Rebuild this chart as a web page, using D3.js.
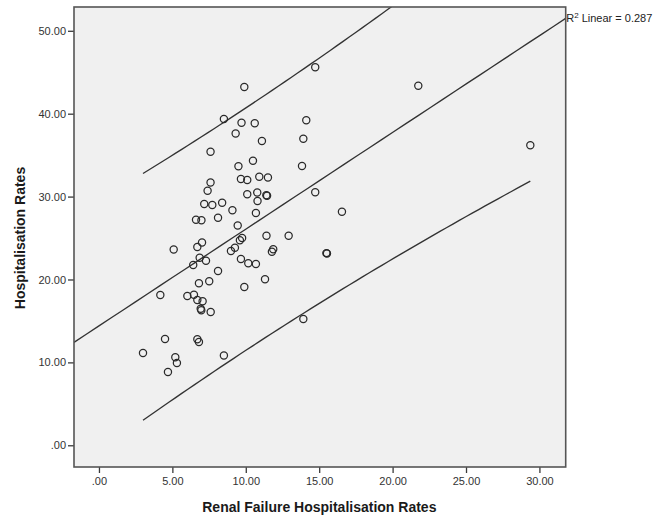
<!DOCTYPE html>
<html>
<head>
<meta charset="utf-8">
<script src="https://cdn.jsdelivr.net/npm/d3@7"></script>
<style>
  html, body { margin: 0; padding: 0; background: #ffffff; }
  svg { display: block; font-family: "Liberation Sans", Arial, sans-serif; }
</style>
</head>
<body>
<svg id="chart" width="667" height="516"></svg>
<script>
// Renal failure hospitalisation rate (x) against overall hospitalisation rate (y)
const renalRates = [
  3.00, 4.18, 4.50, 4.70, 5.20, 5.31, 5.09, 8.51, 6.02, 6.47,
  6.70, 7.06, 6.93, 6.97, 7.61, 6.70, 6.81, 6.81, 7.51, 8.11,
  6.42, 6.86, 7.29, 6.70, 7.02, 6.61, 6.98, 8.11, 7.17, 7.72,
  8.39, 7.40, 7.60, 7.60, 8.51, 9.31, 9.71, 10.61, 9.90, 9.50,
  9.67, 10.10, 10.92, 11.51, 10.49, 11.10, 10.10, 10.78, 11.40, 11.45,
  10.80, 9.09, 10.69, 9.45, 9.75, 9.60, 11.41, 12.92, 9.26, 8.99,
  11.87, 11.78, 9.67, 10.17, 10.69, 9.90, 11.31, 13.92, 14.73, 13.83,
  13.92, 14.12, 14.73, 16.55, 15.49, 15.53, 21.75, 29.38
];
const hospRates = [
  11.13, 18.13, 12.82, 8.84, 10.62, 9.93, 23.62, 10.83, 18.01, 18.17,
  17.53, 17.37, 16.48, 16.28, 16.08, 12.79, 12.46, 19.54, 19.78, 21.03,
  21.75, 22.63, 22.27, 23.92, 24.46, 27.21, 27.15, 27.45, 29.11, 28.99,
  29.25, 30.71, 31.70, 35.42, 39.36, 37.61, 38.91, 38.84, 43.22, 33.67,
  32.12, 32.00, 32.40, 32.30, 34.33, 36.71, 30.29, 30.49, 30.15, 30.10,
  29.47, 28.35, 28.02, 26.51, 25.01, 24.73, 25.28, 25.28, 23.84, 23.44,
  23.64, 23.35, 22.47, 21.95, 21.87, 19.10, 20.02, 15.24, 30.52, 33.69,
  36.98, 39.20, 45.60, 28.18, 23.18, 23.14, 43.38, 36.19
];

// Linear fit: [intercept, slope]; prediction band scale t*s
const fitCoef = [14.40, 1.167];
const bandScale = [14.53];
const rSquared = ["0.287"];

const xTicks = [0, 5, 10, 15, 20, 25, 30];
const yTicks = [0, 10, 20, 30, 40, 50];
const xDomain = [-1.70, 31.79];
const yDomain = [-2.62, 52.87];

const svg = d3.select("#chart");
const frame = { left: 74, right: 565.7, top: 7, bottom: 467 };

const x = d3.scaleLinear().domain(xDomain).range([frame.left, frame.right]);
const y = d3.scaleLinear().domain(yDomain).range([frame.bottom, frame.top]);

const fmt = v => d3.format(".2f")(v).replace(/^0\./, ".");

// plot background
svg.append("rect")
  .attr("x", frame.left).attr("y", frame.top)
  .attr("width", frame.right - frame.left)
  .attr("height", frame.bottom - frame.top)
  .attr("fill", "#f0f0f0");

svg.append("defs").append("clipPath").attr("id", "plotClip")
  .append("rect")
  .attr("x", frame.left).attr("y", frame.top)
  .attr("width", frame.right - frame.left)
  .attr("height", frame.bottom - frame.top);

// axes
const xAxis = d3.axisBottom(x).tickValues(xTicks).tickFormat(fmt).tickSizeOuter(0).tickSize(6).tickPadding(4);
const yAxis = d3.axisLeft(y).tickValues(yTicks).tickFormat(fmt).tickSizeOuter(0).tickSize(6).tickPadding(2);

const gx = svg.append("g").attr("transform", `translate(0,${frame.bottom})`).call(xAxis);
const gy = svg.append("g").attr("transform", `translate(${frame.left},0)`).call(yAxis);
[gx, gy].forEach(g => {
  g.select(".domain").remove();
  g.selectAll(".tick line").attr("stroke", "#3a3a3a").attr("stroke-width", 1.3);
  g.selectAll(".tick text").attr("fill", "#333").attr("font-size", 11)
    .attr("font-family", "Liberation Sans, Arial, sans-serif");
});

// fit line and prediction band
const n = renalRates.length;
const xMean = d3.mean(renalRates);
const sxx = d3.sum(renalRates, v => (v - xMean) ** 2);
const fitAt = v => fitCoef[0] + fitCoef[1] * v;
const halfWidth = v => bandScale[0] * Math.sqrt(1 + 1 / n + (v - xMean) ** 2 / sxx);

const plot = svg.append("g").attr("clip-path", "url(#plotClip)");
const line = d3.line().x(d => x(d[0])).y(d => y(d[1]));

const fullX = d3.range(0, 41).map(i => xDomain[0] + (xDomain[1] - xDomain[0]) * i / 40);
const [xmin, xmax] = d3.extent(renalRates);
const bandX = d3.range(0, 61).map(i => xmin + (xmax - xmin) * i / 60);

const lineStyle = p => p.attr("fill", "none").attr("stroke", "#333").attr("stroke-width", 1.35);
plot.append("path").datum(fullX.map(v => [v, fitAt(v)])).attr("d", line).call(lineStyle);
plot.append("path").datum(bandX.map(v => [v, fitAt(v) + halfWidth(v)])).attr("d", line).call(lineStyle);
plot.append("path").datum(bandX.map(v => [v, fitAt(v) - halfWidth(v)])).attr("d", line).call(lineStyle);

// observations
plot.selectAll("circle.obs").data(renalRates.map((v, i) => [v, hospRates[i]]))
  .join("circle").attr("class", "obs")
  .attr("cx", d => x(d[0])).attr("cy", d => y(d[1]))
  .attr("r", 3.6)
  .attr("fill", "none").attr("stroke", "#2a2a2a").attr("stroke-width", 1.25);

// frame border
svg.append("rect")
  .attr("x", frame.left).attr("y", frame.top)
  .attr("width", frame.right - frame.left)
  .attr("height", frame.bottom - frame.top)
  .attr("fill", "none").attr("stroke", "#555").attr("stroke-width", 1.6);

// fit annotation
const ann = svg.append("text")
  .attr("x", frame.right + 0.5).attr("y", y(fitAt(xDomain[1])) + 3.5)
  .attr("font-size", 11).attr("fill", "#222");
ann.append("tspan").text("R");
ann.append("tspan").attr("dy", -4).attr("font-size", 8).text("2");
ann.append("tspan").attr("dy", 4).text(" Linear = " + rSquared[0]);

// axis titles
svg.append("text")
  .attr("x", (frame.left + frame.right) / 2 - 0.5).attr("y", 512)
  .attr("text-anchor", "middle").attr("font-size", 14).attr("font-weight", "bold")
  .attr("fill", "#1a1a1a")
  .text("Renal Failure Hospitalisation Rates");

svg.append("text")
  .attr("transform", `translate(25,238) rotate(-90)`)
  .attr("text-anchor", "middle").attr("font-size", 14).attr("font-weight", "bold")
  .attr("fill", "#1a1a1a")
  .text("Hospitalisation Rates");
</script>
</body>
</html>
